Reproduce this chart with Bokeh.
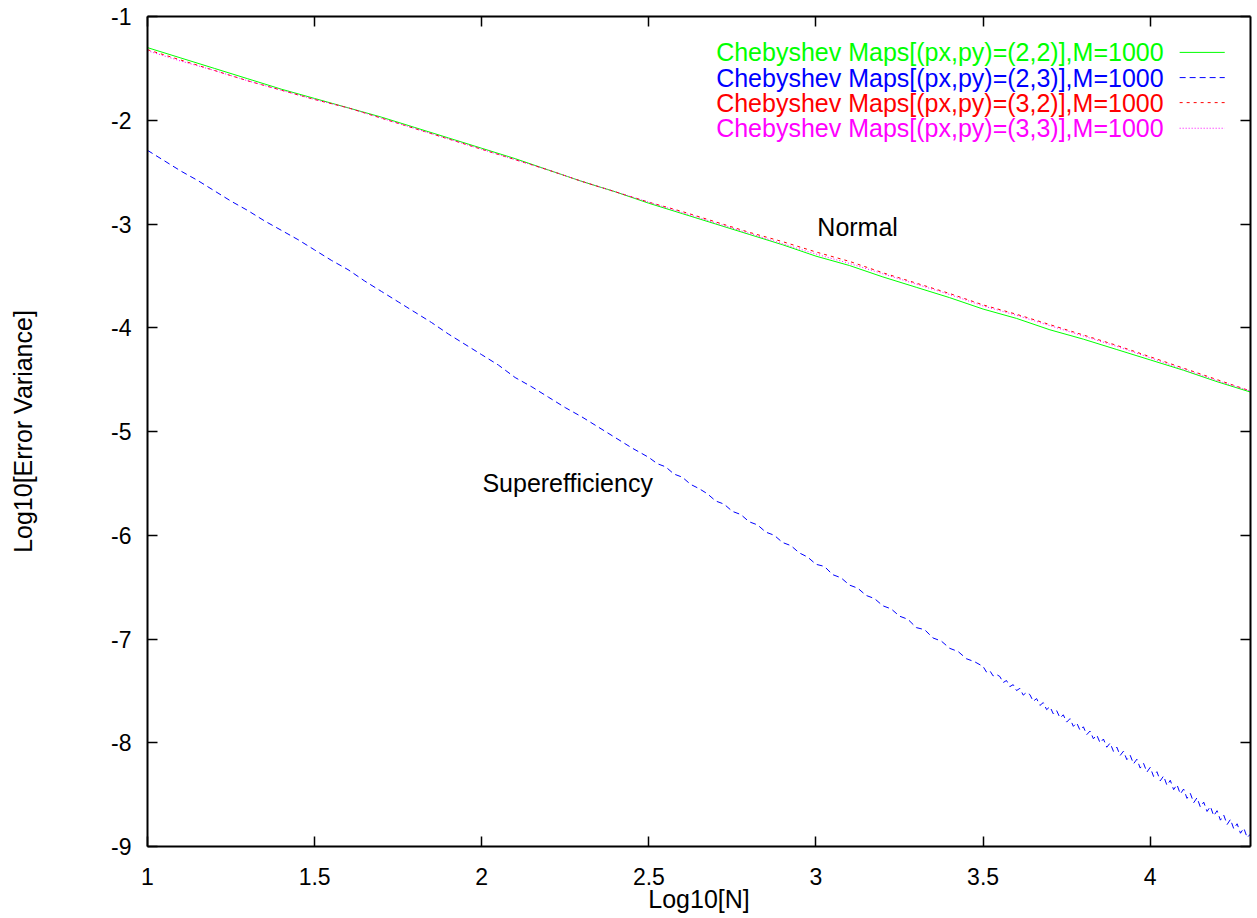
import numpy as np
from bokeh.plotting import figure
from bokeh.models import Range1d, LinearAxis, FixedTicker, Label, CustomJSTickFormatter
from bokeh.embed import file_html
from bokeh.resources import INLINE

# ---------------- data ----------------
x_ticks = [1, 1.5, 2, 2.5, 3, 3.5, 4]
y_ticks = [-1, -2, -3, -4, -5, -6, -7, -8, -9]

series_names = [
    "Chebyshev Maps[(px,py)=(2,2)],M=1000",
    "Chebyshev Maps[(px,py)=(2,3)],M=1000",
    "Chebyshev Maps[(px,py)=(3,2)],M=1000",
    "Chebyshev Maps[(px,py)=(3,3)],M=1000",
]

# common grid of the "normal" curves (log10 N)
normal_x = np.linspace(1.0, 4.3, 34)

green_22 = [-1.30, -1.40, -1.50, -1.60, -1.70, -1.79, -1.88, -1.97, -2.07, -2.17,
            -2.27, -2.37, -2.48, -2.59, -2.69, -2.80, -2.90, -3.00, -3.10, -3.20,
            -3.31, -3.40, -3.51, -3.61, -3.71, -3.82, -3.91, -4.02, -4.11, -4.21,
            -4.31, -4.41, -4.52, -4.62]

red_32 = [-1.32, -1.42, -1.52, -1.62, -1.71, -1.80, -1.88, -1.98, -2.08, -2.18,
          -2.28, -2.38, -2.48, -2.59, -2.69, -2.79, -2.88, -2.98, -3.08, -3.17,
          -3.27, -3.36, -3.47, -3.57, -3.67, -3.78, -3.87, -3.97, -4.07, -4.17,
          -4.28, -4.39, -4.50, -4.61]

magenta_33 = [-1.33, -1.43, -1.52, -1.62, -1.71, -1.80, -1.88, -1.98, -2.08, -2.18,
              -2.28, -2.38, -2.48, -2.59, -2.69, -2.79, -2.89, -2.99, -3.09, -3.19,
              -3.29, -3.38, -3.48, -3.58, -3.68, -3.79, -3.88, -3.98, -4.08, -4.18,
              -4.29, -4.40, -4.51, -4.61]

# superefficient curve: sampled denser where it gets noisy
blue_x = np.concatenate([np.linspace(1.0, 2.45, 30),
                         np.linspace(2.5, 3.475, 40),
                         np.linspace(3.5, 4.3, 81)])
blue_23 = [
    -2.29, -2.39, -2.49, -2.58, -2.68, -2.78, -2.87, -2.97, -3.06, -3.15,
    -3.25, -3.35, -3.44, -3.55, -3.65, -3.75, -3.85, -3.95, -4.06, -4.16,
    -4.26, -4.36, -4.48, -4.57, -4.67, -4.77, -4.86, -4.96, -5.06, -5.16,
    -5.25, -5.31, -5.34, -5.41, -5.44, -5.51, -5.55, -5.60, -5.67, -5.70,
    -5.77, -5.80, -5.87, -5.90, -5.97, -6.00, -6.07, -6.10, -6.17, -6.21,
    -6.28, -6.30, -6.38, -6.41, -6.48, -6.51, -6.58, -6.61, -6.68, -6.71,
    -6.78, -6.81, -6.89, -6.91, -6.99, -7.02, -7.09, -7.12, -7.19, -7.22,
    -7.265, -7.318, -7.305, -7.356, -7.342, -7.361, -7.420, -7.400, -7.459, -7.440,
    -7.497, -7.476, -7.541, -7.515, -7.536, -7.601, -7.574, -7.640, -7.613, -7.681,
    -7.652, -7.722, -7.690, -7.760, -7.731, -7.801, -7.768, -7.842, -7.808, -7.880,
    -7.846, -7.922, -7.887, -7.962, -7.925, -8.001, -7.964, -8.043, -8.003, -8.083,
    -8.042, -8.123, -8.081, -8.163, -8.120, -8.203, -8.159, -8.244, -8.198, -8.283,
    -8.237, -8.325, -8.279, -8.367, -8.320, -8.410, -8.362, -8.452, -8.404, -8.494,
    -8.446, -8.536, -8.488, -8.578, -8.530, -8.620, -8.572, -8.662, -8.614, -8.704,
    -8.655, -8.746, -8.697, -8.788, -8.739, -8.830, -8.781, -8.872, -8.823, -8.914,
    -8.880,
]

annotations = [("Normal", 3.004, -3.026), ("Superefficiency", 2.002, -5.500)]

# ---------------- styles ----------------
FONT = "Liberation Sans"
colors = ["#00ff00", "#0000ff", "#ff0000", "#ff00ff"]
dashes = ["solid", "6 4", "3 4", "1 2"]

p = figure(width=1253, height=915, output_backend="svg", toolbar_location=None,
           x_range=Range1d(1, 4.3), y_range=Range1d(-9, -1),
           min_border_left=147, min_border_right=3, min_border_top=16,
           min_border_bottom=68,
           x_axis_label="Log10[N]", y_axis_label="Log10[Error Variance]")
p.grid.visible = False
p.outline_line_color = None
p.background_fill_color = "white"
p.border_fill_color = "white"

fmt = CustomJSTickFormatter(code="return String(tick);")


def style_axis(ax, ticks, labels=True):
    ax.ticker = FixedTicker(ticks=ticks)
    ax.formatter = fmt
    ax.major_tick_in = 10
    ax.major_tick_out = 0
    ax.minor_tick_in = 0
    ax.minor_tick_out = 0
    ax.axis_line_width = 2
    ax.axis_line_color = "black"
    ax.major_tick_line_width = 1.5
    ax.major_tick_line_color = "black"
    ax.major_label_text_font = FONT
    if labels:
        ax.major_label_text_font_size = "23px"
        ax.major_label_text_color = "black"
    else:
        ax.major_label_text_font_size = "1px"
        ax.major_label_text_color = None
        ax.major_label_standoff = 0
    ax.axis_label_text_font = FONT
    ax.axis_label_text_font_size = "25px"
    ax.axis_label_text_font_style = "normal"
    ax.axis_label_text_color = "black"


style_axis(p.xaxis[0], x_ticks)
style_axis(p.yaxis[0], y_ticks)
p.xaxis[0].major_label_standoff = 21
p.xaxis[0].axis_label_standoff = -3
p.yaxis[0].major_label_standoff = 16
p.yaxis[0].axis_label_standoff = 71

top_ax = LinearAxis()
style_axis(top_ax, x_ticks, labels=False)
p.add_layout(top_ax, "above")
right_ax = LinearAxis()
style_axis(right_ax, y_ticks, labels=False)
p.add_layout(right_ax, "right")

# ---------------- curves ----------------
ys = [green_22, blue_23, red_32, magenta_33]
xs = [normal_x, blue_x, normal_x, normal_x]
for i in range(4):
    p.line(xs[i], ys[i], line_color=colors[i], line_width=1, line_dash=dashes[i])

# ---------------- legend (gnuplot style: text then sample) ----------------
LEG_TEXT_X = 4.040
LEG_ROWS_Y = [-1.346, -1.589, -1.830, -2.077]
LEG_SAMPLE = (4.088, 4.223)
for i, name in enumerate(series_names):
    yr = LEG_ROWS_Y[i]
    p.add_layout(Label(x=LEG_TEXT_X, y=yr, text=name, text_align="right",
                       text_baseline="alphabetic", text_font=FONT,
                       text_font_size="25px", text_color=colors[i]))
    p.line(list(LEG_SAMPLE), [yr, yr], line_color=colors[i], line_width=1,
           line_dash=dashes[i])

for txt, ax_, ay_ in annotations:
    p.add_layout(Label(x=ax_, y=ay_, text=txt, text_align="left",
                       text_baseline="alphabetic", text_font=FONT,
                       text_font_size="25px", text_color="black"))

open("out.html", "w").write(file_html(p, INLINE))
